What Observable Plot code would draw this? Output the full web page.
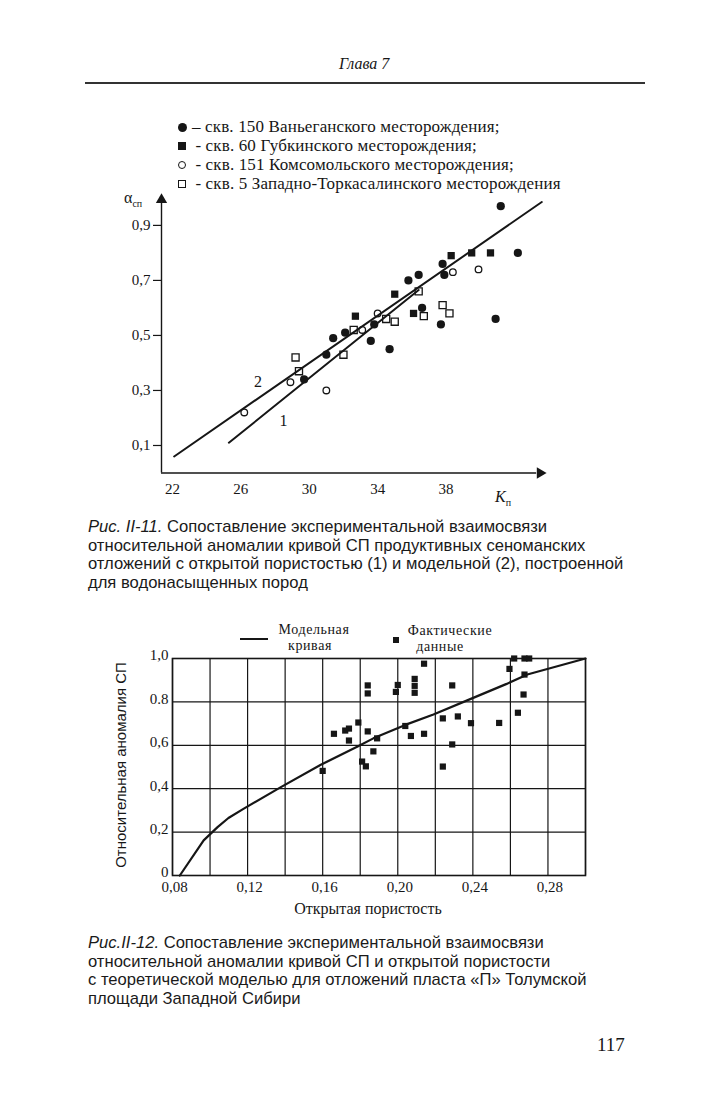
<!DOCTYPE html>
<html><head><meta charset="utf-8">
<script src="https://cdn.jsdelivr.net/npm/d3@7"></script>
<script src="https://cdn.jsdelivr.net/npm/@observablehq/plot@0.6"></script>
<style>
html,body{margin:0;padding:0;background:#fff}
body{width:709px;height:1105px;position:relative;overflow:hidden;font-family:"Liberation Serif","DejaVu Serif",serif;color:#161616}
.abs{position:absolute;white-space:nowrap}
.leg1{font-size:17px;line-height:19px;letter-spacing:0.15px}
.sym{display:inline-block;box-sizing:border-box;vertical-align:middle;margin-right:5px;position:relative;top:-1px}
.fc{width:9px;height:9px;border-radius:50%;background:#161616}
.fs{width:8px;height:8px;background:#161616}
.oc{width:8px;height:8px;border-radius:50%;border:1.3px solid #161616}
.os{width:8px;height:8px;border:1.3px solid #161616}
.cap{font-family:"Liberation Sans",Arial,sans-serif;font-size:16.6px;line-height:18.5px;color:#1a1a1a}
.cap i{font-family:"Liberation Sans",sans-serif;font-size:16.6px}
.leg2{font-size:14px;line-height:16px;height:16px;letter-spacing:0.6px;text-align:center;transform:translateX(-50%)}
svg{position:absolute;overflow:visible}
</style></head><body>

<div class="abs" style="left:339px;top:55px;font-style:italic;font-size:16px">Глава 7</div>
<div class="abs" style="left:85px;top:82px;width:560px;height:1.6px;background:#333"></div>

<div class="abs leg1" style="left:178px;top:117px">
  <div><span class="sym fc"></span>– скв. 150 Ваньеганского месторождения;</div>
  <div><span class="sym fs"></span> - скв. 60 Губкинского месторождения;</div>
  <div><span class="sym oc"></span> - скв. 151 Комсомольского месторождения;</div>
  <div><span class="sym os"></span> - скв. 5 Западно-Торкасалинского месторождения</div>
</div>

<div class="abs" style="left:124px;top:189px;font-size:16px">α<sub style="font-size:10px">сп</sub></div>
<div class="abs" style="left:495px;top:488px;font-size:16px;font-style:italic">K<sub style="font-size:10px;font-style:normal">п</sub></div>

<div class="abs cap" style="left:88px;top:518px">
<div><i>Рис. II-11.</i> Сопоставление экспериментальной взаимосвязи</div>
<div>относительной аномалии кривой СП продуктивных сеноманских</div>
<div>отложений с открытой пористостью (1) и модельной (2), построенной</div>
<div>для водонасыщенных пород</div>
</div>

<div class="abs" style="left:240px;top:638px;width:28px;height:2px;background:#161616"></div>
<div class="abs leg2" style="left:314px;top:622px">Модельная</div>
<div class="abs leg2" style="left:310px;top:638px">кривая</div>
<div class="abs" style="left:393px;top:637px;width:6px;height:6px;background:#161616"></div>
<div class="abs leg2" style="left:450px;top:623px">Фактические</div>
<div class="abs leg2" style="left:440px;top:639px">данные</div>

<div class="abs" style="left:120px;top:765px;transform:translate(-50%,-50%) rotate(-90deg);font-family:'Liberation Sans',sans-serif;font-size:15px">Относительная аномалия СП</div>
<div class="abs" style="left:368px;top:909px;transform:translate(-50%,-50%);font-size:16px">Открытая пористость</div>

<div class="abs cap" style="left:88px;top:934px">
<div><i>Рис.II-12.</i> Сопоставление экспериментальной взаимосвязи</div>
<div>относительной аномалии кривой СП и открытой пористости</div>
<div>с теоретической моделью для отложений пласта «П» Толумской</div>
<div>площади Западной Сибири</div>
</div>

<div class="abs" style="left:597px;top:1034px;font-size:19px">117</div>

<script>
// ---------- Figure II-11 data (K_п, α_сп) ----------
const vaneganK = [41.2, 42.2, 40.9, 37.8, 37.9, 35.8, 36.4, 36.6, 37.7, 31.4, 32.1, 33.6, 34.7, 33.8, 31.0, 29.7];
const vaneganA = [0.97, 0.80, 0.56, 0.76, 0.72, 0.70, 0.72, 0.60, 0.54, 0.49, 0.51, 0.48, 0.45, 0.54, 0.43, 0.34];
const gubkinK = [38.3, 39.5, 40.6, 35.0, 32.7, 36.1];
const gubkinA = [0.79, 0.80, 0.80, 0.65, 0.57, 0.58];
const komsomolK = [38.4, 39.9, 34.0, 33.1, 28.9, 31.0, 26.2];
const komsomolA = [0.73, 0.74, 0.58, 0.52, 0.33, 0.30, 0.22];
const torkasK = [36.4, 37.8, 38.2, 36.7, 35.0, 34.5, 32.6, 32.0, 29.2, 29.4];
const torkasA = [0.66, 0.61, 0.58, 0.57, 0.55, 0.56, 0.52, 0.43, 0.42, 0.37];
const line1K = [25.3, 36.4];
const line1A = [0.11, 0.665];
const line2K = [22.1, 43.6];
const line2A = [0.06, 0.985];
const lineLabels = ["2", "1"];
const lineLabelK = [27.0, 28.5];
const lineLabelA = [0.33, 0.19];
const xTicks1 = [22, 26, 30, 34, 38];
const yTicks1 = [0.1, 0.3, 0.5, 0.7, 0.9];
const xDomain1 = [21.36, 43.7];
const yDomain1 = [0, 1.005];

// ---------- Figure II-12 data (porosity, relative SP anomaly) ----------
const factPor = [0.262, 0.2675, 0.270, 0.2595, 0.2675, 0.267, 0.264, 0.254, 0.239, 0.232, 0.224, 0.229, 0.229, 0.224,
  0.214, 0.209, 0.209, 0.209, 0.200, 0.199, 0.184, 0.184, 0.204, 0.207, 0.214, 0.179, 0.174, 0.172, 0.166, 0.174,
  0.184, 0.189, 0.187, 0.181, 0.183, 0.160];
const factAn = [1.0, 1.0, 1.0, 0.952, 0.926, 0.834, 0.750, 0.703, 0.702, 0.733, 0.724, 0.876, 0.604, 0.502,
  0.976, 0.906, 0.874, 0.842, 0.878, 0.846, 0.876, 0.839, 0.689, 0.643, 0.653, 0.705, 0.677, 0.668, 0.653, 0.622,
  0.664, 0.632, 0.572, 0.525, 0.503, 0.482];
const modelPor = [0.0839, 0.0966, 0.104, 0.1098, 0.118, 0.1375, 0.159, 0.1786, 0.187, 0.204, 0.219, 0.237, 0.258, 0.269, 0.30];
const modelAn = [0, 0.162, 0.223, 0.265, 0.308, 0.406, 0.51, 0.594, 0.632, 0.694, 0.742, 0.807, 0.883, 0.926, 1.0];
const xGrid2 = [0.08, 0.10, 0.12, 0.14, 0.16, 0.18, 0.20, 0.22, 0.24, 0.26, 0.28, 0.30];
const yGrid2 = [0, 0.2, 0.4, 0.6, 0.8, 1.0];
const xTicks2 = [0.08, 0.12, 0.16, 0.20, 0.24, 0.28];
const xTickLabels2 = ["0,08", "0,12", "0,16", "0,20", "0,24", "0,28"];
const yTicks2 = [0, 0.2, 0.4, 0.6, 0.8, 1.0];
const yTickLabels2 = ["0", "0,2", "0,4", "0,6", "0.8", "1,0"];

const zip = (xs, ys) => xs.map((x, i) => ({x, y: ys[i]}));
const ink = "#161616";
const comma = d => d.toFixed(1).replace(".", ",");

const s1 = zip(vaneganK, vaneganA), s2 = zip(gubkinK, gubkinA), s3 = zip(komsomolK, komsomolA), s4 = zip(torkasK, torkasA);
const l1 = zip(line1K, line1A), l2 = zip(line2K, line2A);
const labs = lineLabels.map((t, i) => ({t, x: lineLabelK[i], y: lineLabelA[i]}));

const p1 = Plot.plot({
  width: 470, height: 320, marginLeft: 71, marginRight: 17, marginTop: 11, marginBottom: 32.5,
  x: {domain: xDomain1, label: null}, y: {domain: yDomain1, label: null},
  style: {fontFamily: "Liberation Serif", fontSize: "15px", color: ink, background: "transparent", overflow: "visible"},
  marks: [
    Plot.ruleX([xDomain1[0]], {y1: yDomain1[0], y2: yDomain1[1] - 0.02, stroke: ink, strokeWidth: 1.4}),
    Plot.ruleY([yDomain1[0]], {x1: xDomain1[0], x2: xDomain1[1] - 0.4, stroke: ink, strokeWidth: 1.4}),
    Plot.dot([{x: xDomain1[0], y: yDomain1[1] - 0.012}], {x: "x", y: "y", symbol: "triangle", r: 4.2, fill: ink}),
    Plot.dot([{x: xDomain1[1] - 0.2, y: yDomain1[0]}], {x: "x", y: "y", symbol: "triangle", r: 4.2, fill: ink, rotate: 90}),
    Plot.axisY({ticks: yTicks1, tickFormat: comma, tickSize: 8, tickPadding: 3, strokeWidth: 1.2, label: null}),
    Plot.axisX({ticks: xTicks1, tickFormat: d => String(d), tickSize: 0, tickPadding: 10, label: null}),
    Plot.line(l1, {x: "x", y: "y", stroke: ink, strokeWidth: 2}),
    Plot.line(l2, {x: "x", y: "y", stroke: ink, strokeWidth: 2}),
    Plot.dot(s1, {x: "x", y: "y", r: 4.1, fill: ink}),
    Plot.dot(s2, {x: "x", y: "y", symbol: "square", r: 4.1, fill: ink}),
    Plot.dot(s3, {x: "x", y: "y", r: 3.3, fill: "none", stroke: ink, strokeWidth: 1.3}),
    Plot.dot(s4, {x: "x", y: "y", symbol: "square", r: 4.0, fill: "none", stroke: ink, strokeWidth: 1.3}),
    Plot.text(labs, {x: "x", y: "y", text: "t", fontSize: 16, fill: ink})
  ]
});
p1.style.left = "90px"; p1.style.top = "185px";
document.body.appendChild(p1);

const fact = zip(factPor, factAn), model = zip(modelPor, modelAn);
const p2 = Plot.plot({
  width: 500, height: 270, marginLeft: 72, marginRight: 15, marginTop: 18, marginBottom: 35,
  x: {domain: [xGrid2[0], xGrid2[xGrid2.length - 1]], label: null}, y: {domain: [0, 1], label: null},
  style: {fontFamily: "Liberation Serif", fontSize: "15px", color: ink, background: "transparent", overflow: "visible"},
  marks: [
    Plot.ruleX(xGrid2, {stroke: ink, strokeWidth: 1.2}),
    Plot.ruleY(yGrid2, {stroke: ink, strokeWidth: 1.2}),
    Plot.frame({stroke: ink, strokeWidth: 1.6}),
    Plot.line(model, {x: "x", y: "y", stroke: ink, strokeWidth: 2.2}),
    Plot.dot(fact, {x: "x", y: "y", symbol: "square", r: 3.5, fill: ink}),
    Plot.axisY({ticks: yTicks2, tickFormat: d => yTickLabels2[yTicks2.indexOf(d)], tickSize: 0, tickPadding: 4, dy: -3, label: null}),
    Plot.axisX({ticks: xTicks2, tickFormat: d => xTickLabels2[xTicks2.indexOf(d)], tickSize: 0, tickPadding: 6, dx: 2, label: null})
  ]
});
p2.style.left = "100px"; p2.style.top = "640px";
document.body.appendChild(p2);
</script>
</body></html>
